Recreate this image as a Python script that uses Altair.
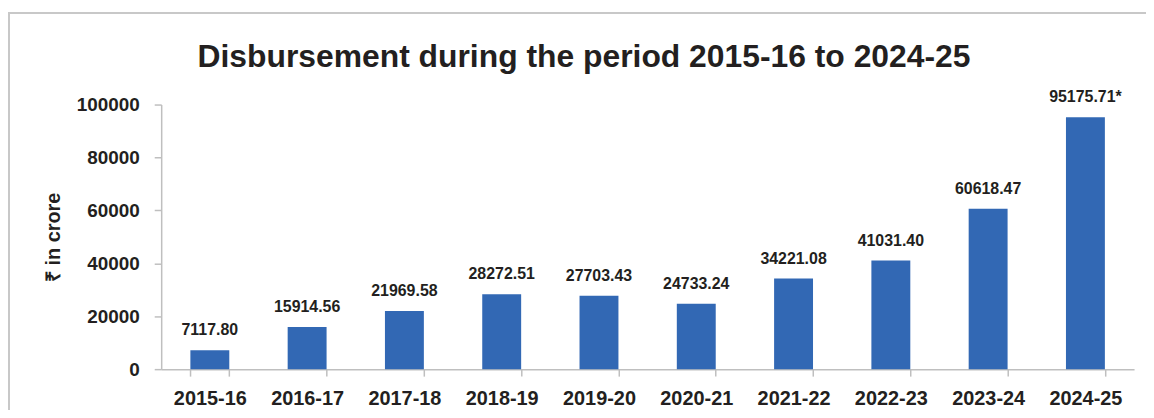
import altair as alt
import pandas as pd

years = ["2015-16", "2016-17", "2017-18", "2018-19", "2019-20",
         "2020-21", "2021-22", "2022-23", "2023-24", "2024-25"]
values = [7117.80, 15914.56, 21969.58, 28272.51, 27703.43,
          24733.24, 34221.08, 41031.40, 60618.47, 95175.71]
labels = ["7117.80", "15914.56", "21969.58", "28272.51", "27703.43",
          "24733.24", "34221.08", "41031.40", "60618.47", "95175.71*"]
y_ticks = [0, 20000, 40000, 60000, 80000, 100000]

df = pd.DataFrame({"year": years, "value": values, "label": labels})

FONT = "Liberation Sans Narrow, Arial Narrow, Liberation Sans, Arial, sans-serif"
TXT = "#231f20"
PL, PT, PR, PB = 154, 96, 12, 40
W, H = 978, 266

x = alt.X("year:N", sort=years, title=None,
          scale=alt.Scale(paddingInner=0.6, paddingOuter=0.3),
          axis=alt.Axis(labelAngle=0, labelFont=FONT, labelFontSize=20,
                        labelFontWeight="bold", labelColor=TXT, labelPadding=13,
                        tickBand="extent", tickSize=7, tickColor="#bfbfbf",
                        domainColor="#bfbfbf", domainWidth=1.5, tickWidth=1.5))
y = alt.Y("value:Q", title="₹ in crore",
          scale=alt.Scale(domain=[0, 100000], nice=False),
          axis=alt.Axis(values=y_ticks, format="d", grid=False,
                        labelFont=FONT, labelFontSize=19, labelFontWeight="bold",
                        labelColor=TXT, labelPadding=15, tickSize=7,
                        tickColor="#bfbfbf", domainColor="#bfbfbf",
                        domainWidth=1.5, tickWidth=1.5,
                        titleFont=FONT, titleFontSize=20, titleFontWeight="bold",
                        titleColor=TXT, titleX=-108, titleY=133,
                        titleAngle=270, titleAlign="center",
                        titleBaseline="middle"))

bars = alt.Chart(df).mark_bar(color="#3268b4").encode(x=x, y=y)
text = alt.Chart(df).mark_text(font=FONT, fontSize=16, fontWeight="bold",
                               color=TXT, baseline="alphabetic", dy=-15).encode(
    x=alt.X("year:N", sort=years), y="value:Q", text="label:N")

frame = alt.Chart(df).mark_rect(fill=None, stroke="#c8c8c8", strokeWidth=2).encode(
    x=alt.value(-PL + 1), y=alt.value(-PT + 4),
    x2=alt.value(W + PR + 80), y2=alt.value(H + PB + 30))

chart = alt.layer(frame, bars, text).properties(
    width=W, height=H,
    autosize=alt.AutoSizeParams(type="none"),
    padding={"left": PL, "top": PT, "right": PR, "bottom": PB},
    title=alt.TitleParams("Disbursement during the period 2015-16 to 2024-25",
                          font=FONT, fontSize=32, fontWeight="bold", color=TXT,
                          anchor="middle", frame="group", dx=-64, offset=-62),
).configure_view(stroke=None)

chart.save("out.html", embed_options={"renderer": "svg", "actions": False})
